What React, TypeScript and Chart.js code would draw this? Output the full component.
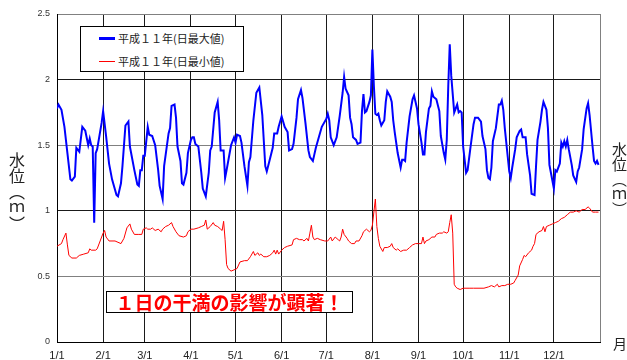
import React, { useEffect, useRef } from "react";
import { Chart, registerables } from "chart.js";

Chart.register(...registerables);

// Month start positions (day of year, 0 = 1/1) and their tick labels
const monthTicks = [0, 31, 59, 90, 120, 151, 181, 212, 243, 273, 304, 334, 365];
const monthLabels = ["1/1", "2/1", "3/1", "4/1", "5/1", "6/1", "7/1", "8/1", "9/1", "10/1", "11/1", "12/1", ""];

// Y tick values and labels
const yTickValues = [0, 0.5, 1, 1.5, 2, 2.5];
const yTickLabels = ["0", "0.5", "1", "1.5", "2", "2.5"];

const seriesMaxLabel = "平成１１年(日最大値)";
const seriesMinLabel = "平成１１年(日最小値)";

// Daily maximum water level (day of year, value in m)
const maxDays = [
  0, 1, 3, 5, 7, 9, 10, 12, 13, 15, 17, 19, 21, 22, 23, 24, 25, 26, 27, 30,
  31, 33, 35, 37, 40, 41, 43, 44, 46, 48, 49, 52, 54, 55, 56, 57, 58, 59, 61, 62,
  64, 66, 68, 69, 71, 72, 75, 76, 77, 79, 80, 81, 83, 84, 85, 87, 88, 90, 91, 92,
  93, 95, 97, 98, 100, 102, 103, 104, 106, 108, 109, 110, 112, 113, 114, 117, 119, 120, 121, 123,
  124, 126, 128, 129, 130, 132, 134, 136, 138, 140, 141, 143, 145, 146, 148, 149, 151, 153, 155, 156,
  158, 159, 161, 162, 164, 165, 167, 169, 170, 172, 173, 174, 176, 178, 181, 182, 183, 184, 186, 188,
  190, 192, 193, 194, 196, 197, 198, 199, 201, 202, 204, 205, 206, 207, 208, 210, 211, 212, 213, 214,
  215, 216, 217, 218, 220, 221, 222, 224, 225, 226, 227, 229, 231, 232, 233, 234, 235, 237, 239, 240,
  242, 243, 245, 246, 247, 248, 250, 251, 252, 253, 255, 257, 258, 260, 261, 262, 263, 264, 265, 267,
  269, 270, 271, 272, 273, 275, 276, 278, 280, 281, 283, 285, 286, 288, 289, 290, 291, 292, 293, 295,
  297, 298, 299, 300, 301, 303, 304, 305, 306, 308, 309, 311, 312, 313, 315, 316, 317, 318, 319, 321,
  322, 323, 325, 326, 327, 329, 330, 331, 332, 334, 335, 336, 338, 339, 340, 341, 342, 343, 344, 346,
  347, 349, 350, 351, 353, 354, 356, 357, 358, 360, 361, 362, 363, 364,
];
const maxVals = [
  1.78, 1.81, 1.77, 1.64, 1.44, 1.24, 1.23, 1.26, 1.48, 1.45, 1.64, 1.61, 1.5, 1.55, 1.5, 1.49, 0.91, 1.44, 1.47, 1.67,
  1.76, 1.57, 1.36, 1.24, 1.12, 1.11, 1.21, 1.34, 1.65, 1.68, 1.49, 1.31, 1.2, 1.19, 1.31, 1.31, 1.42, 1.42, 1.64, 1.58,
  1.57, 1.5, 1.31, 1.19, 1.09, 1.34, 1.59, 1.63, 1.8, 1.81, 1.71, 1.49, 1.38, 1.21, 1.2, 1.29, 1.44, 1.54, 1.56, 1.56,
  1.51, 1.49, 1.29, 1.17, 1.11, 1.29, 1.46, 1.49, 1.75, 1.83, 1.69, 1.46, 1.46, 1.25, 1.31, 1.5, 1.56, 1.52, 1.58, 1.57,
  1.52, 1.34, 1.19, 1.37, 1.41, 1.69, 1.9, 1.94, 1.73, 1.34, 1.3, 1.39, 1.48, 1.59, 1.59, 1.64, 1.72, 1.64, 1.6, 1.46,
  1.47, 1.51, 1.71, 1.85, 1.92, 1.86, 1.67, 1.46, 1.41, 1.38, 1.43, 1.48, 1.56, 1.64, 1.7, 1.74, 1.69, 1.56, 1.5, 1.56,
  1.72, 1.9, 2.02, 1.93, 1.88, 1.71, 1.66, 1.56, 1.54, 1.51, 1.52, 1.76, 1.89, 1.75, 1.76, 1.83, 1.88, 2.23, 1.95, 1.74,
  1.73, 1.74, 1.69, 1.65, 1.69, 1.83, 1.91, 1.87, 1.83, 1.69, 1.6, 1.44, 1.33, 1.39, 1.39, 1.38, 1.52, 1.72, 1.85, 1.88,
  1.78, 1.66, 1.52, 1.43, 1.43, 1.6, 1.78, 1.8, 1.91, 1.87, 1.85, 1.76, 1.57, 1.44, 1.39, 1.54, 1.95, 2.27, 2.03, 1.75,
  1.81, 1.75, 1.76, 1.75, 1.49, 1.29, 1.31, 1.49, 1.66, 1.71, 1.71, 1.68, 1.57, 1.47, 1.31, 1.25, 1.24, 1.33, 1.53, 1.63,
  1.81, 1.81, 1.84, 1.77, 1.63, 1.41, 1.3, 1.25, 1.33, 1.47, 1.56, 1.61, 1.62, 1.56, 1.56, 1.43, 1.35, 1.27, 1.13, 1.12,
  1.34, 1.54, 1.68, 1.77, 1.83, 1.77, 1.63, 1.35, 1.29, 1.17, 1.31, 1.3, 1.36, 1.52, 1.49, 1.53, 1.49, 1.54, 1.47, 1.35,
  1.27, 1.22, 1.3, 1.33, 1.47, 1.62, 1.78, 1.82, 1.73, 1.49, 1.38, 1.36, 1.38, 1.35,
];

// Daily minimum water level (day of year, value in m)
const minDays = [
  0, 3, 4, 6, 7, 8, 10, 13, 15, 18, 21, 22, 23, 26, 27, 29, 31, 32, 33, 35,
  39, 41, 43, 45, 47, 49, 50, 52, 55, 57, 58, 60, 61, 63, 64, 66, 68, 70, 71, 73,
  75, 77, 78, 80, 82, 85, 87, 88, 90, 92, 95, 97, 99, 100, 101, 103, 105, 106, 108, 110,
  111, 112, 113, 114, 115, 117, 119, 121, 123, 126, 128, 130, 132, 133, 135, 136, 137, 139, 141, 143,
  145, 146, 147, 148, 149, 151, 153, 155, 158, 159, 161, 163, 165, 166, 168, 169, 170, 171, 172, 173,
  175, 177, 180, 182, 184, 185, 187, 189, 190, 191, 192, 193, 195, 196, 198, 200, 201, 203, 205, 206,
  208, 210, 211, 212, 214, 215, 216, 217, 219, 220, 222, 224, 225, 226, 228, 229, 231, 233, 235, 237,
  239, 241, 243, 245, 246, 247, 248, 250, 252, 254, 255, 257, 259, 260, 262, 263, 264, 265, 266, 267,
  268, 269, 271, 273, 277, 280, 283, 287, 290, 292, 294, 296, 297, 299, 301, 303, 305, 307, 308, 310,
  311, 313, 314, 315, 317, 319, 320, 321, 322, 324, 326, 327, 328, 329, 331, 333, 335, 337, 339, 341,
  343, 345, 347, 349, 351, 353, 355, 357, 358, 360, 362, 364,
];
const minVals = [
  0.73, 0.75, 0.78, 0.83, 0.74, 0.66, 0.64, 0.64, 0.66, 0.67, 0.68, 0.71, 0.7, 0.7, 0.71, 0.77, 0.83, 0.85, 0.8, 0.77,
  0.77, 0.76, 0.75, 0.79, 0.87, 0.9, 0.86, 0.82, 0.82, 0.82, 0.86, 0.87, 0.86, 0.86, 0.87, 0.85, 0.86, 0.84, 0.86, 0.88,
  0.89, 0.91, 0.88, 0.84, 0.81, 0.8, 0.81, 0.84, 0.86, 0.86, 0.87, 0.88, 0.89, 0.93, 0.86, 0.88, 0.91, 0.89, 0.88, 0.86,
  0.85, 0.92, 0.78, 0.59, 0.56, 0.54, 0.55, 0.56, 0.61, 0.62, 0.62, 0.65, 0.69, 0.66, 0.68, 0.66, 0.67, 0.65, 0.65, 0.66,
  0.68, 0.7, 0.67, 0.7, 0.67, 0.7, 0.72, 0.73, 0.74, 0.78, 0.79, 0.78, 0.78, 0.77, 0.79, 0.77, 0.83, 0.89, 0.8, 0.78,
  0.79, 0.78, 0.77, 0.77, 0.8, 0.77, 0.8, 0.78, 0.77, 0.8, 0.86, 0.82, 0.79, 0.77, 0.75, 0.75, 0.77, 0.77, 0.81, 0.84,
  0.86, 0.84, 0.85, 0.89, 1.09, 0.88, 0.79, 0.73, 0.69, 0.72, 0.72, 0.73, 0.75, 0.72, 0.7, 0.71, 0.69, 0.7, 0.7, 0.72,
  0.74, 0.75, 0.75, 0.75, 0.8, 0.75, 0.77, 0.78, 0.8, 0.8, 0.82, 0.83, 0.83, 0.84, 0.83, 0.84, 0.91, 0.97, 0.83, 0.44,
  0.42, 0.41, 0.4, 0.41, 0.41, 0.41, 0.41, 0.41, 0.42, 0.43, 0.42, 0.44, 0.42, 0.43, 0.43, 0.44, 0.44, 0.45, 0.47, 0.51,
  0.58, 0.63, 0.66, 0.65, 0.68, 0.7, 0.73, 0.75, 0.82, 0.84, 0.85, 0.88, 0.84, 0.88, 0.89, 0.9, 0.91, 0.92, 0.94, 0.95,
  0.97, 0.99, 0.99, 1.0, 0.99, 1.01, 1.01, 1.03, 1.02, 0.99, 0.99, 0.99,
];

const yTitle = "水位（ｍ）";
const xTitle = "月";
const noteText = "１日の干満の影響が顕著！";

const CJK = '"Noto Sans CJK JP", "Noto Sans", sans-serif';

export default function App() {
  const canvasRef = useRef<HTMLCanvasElement | null>(null);

  useEffect(() => {
    const canvas = canvasRef.current;
    if (!canvas) return;
    const chart = new Chart(canvas, {
      type: "line",
      data: {
        datasets: [
          {
            label: seriesMaxLabel,
            data: maxDays.map((d, i) => ({ x: d, y: maxVals[i] })),
            borderColor: "#0000ff",
            backgroundColor: "#0000ff",
            borderWidth: 2,
            pointRadius: 0,
            tension: 0,
            fill: false,
          },
          {
            label: seriesMinLabel,
            data: minDays.map((d, i) => ({ x: d, y: minVals[i] })),
            borderColor: "#ff0000",
            backgroundColor: "#ff0000",
            borderWidth: 1,
            pointRadius: 0,
            tension: 0,
            fill: false,
          },
        ],
      },
      options: {
        animation: false,
        responsive: false,
        devicePixelRatio: 1,
        layout: { padding: { top: 14, right: 27, left: 0, bottom: 0 } },
        plugins: {
          legend: { display: false },
          tooltip: { enabled: false },
          title: { display: false },
        },
        scales: {
          x: {
            type: "linear",
            min: 0,
            max: 365,
            afterBuildTicks: (scale: any) => {
              scale.ticks = monthTicks.map((v) => ({ value: v }));
            },
            afterFit: (scale: any) => {
              scale.height = 18;
            },
            ticks: {
              autoSkip: false,
              maxRotation: 0,
              padding: 7,
              color: "#222",
              font: { family: '"Liberation Sans", Arial, sans-serif', size: 11 },
              callback: (value: any) => {
                const i = monthTicks.indexOf(Number(value));
                return i >= 0 ? monthLabels[i] : "";
              },
            },
            grid: {
              drawTicks: false,
              lineWidth: 1,
              color: (ctx: any) => (ctx.tick && ctx.tick.value === 365 ? "#808080" : "#1a1a1a"),
            },
            border: { display: true, color: "#000", width: 1 },
          },
          y: {
            min: 0,
            max: 2.5,
            afterBuildTicks: (scale: any) => {
              scale.ticks = yTickValues.map((v) => ({ value: v }));
            },
            afterFit: (scale: any) => {
              scale.width = 57;
            },
            ticks: {
              padding: 7,
              color: "#333",
              font: { family: '"Liberation Sans", Arial, sans-serif', size: 9 },
              callback: (value: any) => {
                const i = yTickValues.findIndex((v) => Math.abs(v - Number(value)) < 1e-6);
                return i >= 0 ? yTickLabels[i] : "";
              },
            },
            grid: {
              drawTicks: false,
              lineWidth: 1,
              color: (ctx: any) => {
                const v = ctx.tick ? ctx.tick.value : 0;
                return Math.abs(v - Math.round(v)) > 0.01 ? "#808080" : "#1a1a1a";
              },
            },
            border: { display: true, color: "#000", width: 1 },
          },
        },
      },
    });
    return () => chart.destroy();
  }, []);

  return (
    <div
      style={{
        position: "fixed",
        left: 0,
        top: 0,
        width: 627,
        height: 360,
        overflow: "hidden",
        background: "#fff",
      }}
    >
      <canvas ref={canvasRef} width={627} height={360} style={{ position: "absolute", left: 0, top: 0 }} />

      {/* Legend */}
      <div
        style={{
          position: "absolute",
          left: 80,
          top: 26,
          width: 164,
          height: 46,
          boxSizing: "border-box",
          border: "1px solid #000",
          background: "#fff",
          fontFamily: CJK,
          fontSize: 11,
          color: "#222",
        }}
      >
        <div style={{ position: "absolute", left: 18, top: 10, width: 16, height: 3, background: "#0000ff" }} />
        <div style={{ position: "absolute", left: 37, top: 3, lineHeight: "16px", whiteSpace: "nowrap" }}>{seriesMaxLabel}</div>
        <div style={{ position: "absolute", left: 18, top: 34, width: 16, height: 1, background: "#ff0000" }} />
        <div style={{ position: "absolute", left: 37, top: 26, lineHeight: "16px", whiteSpace: "nowrap" }}>{seriesMinLabel}</div>
      </div>

      {/* Annotation */}
      <div
        style={{
          position: "absolute",
          left: 106,
          top: 291,
          width: 247,
          height: 22,
          boxSizing: "border-box",
          border: "1px solid #000",
          background: "#fff",
          color: "#ff0000",
          fontFamily: CJK,
          fontWeight: 700,
          fontSize: 19,
          lineHeight: "20px",
          textAlign: "center",
          whiteSpace: "nowrap",
        }}
      >
        {noteText}
      </div>

      {/* Y axis titles (vertical) */}
      <div
        style={{
          position: "absolute",
          left: 9,
          top: 152,
          writingMode: "vertical-rl",
          fontFamily: CJK,
          fontSize: 16,
          lineHeight: 1,
          color: "#222",
          whiteSpace: "nowrap",
        }}
      >
        {yTitle}
      </div>
      <div
        style={{
          position: "absolute",
          left: 612,
          top: 142,
          writingMode: "vertical-rl",
          fontFamily: CJK,
          fontSize: 15,
          lineHeight: 1,
          color: "#222",
          whiteSpace: "nowrap",
        }}
      >
        {yTitle}
      </div>

      {/* X axis unit */}
      <div
        style={{
          position: "absolute",
          left: 613,
          top: 336,
          fontFamily: CJK,
          fontSize: 14,
          lineHeight: 1,
          color: "#222",
        }}
      >
        {xTitle}
      </div>
    </div>
  );
}
